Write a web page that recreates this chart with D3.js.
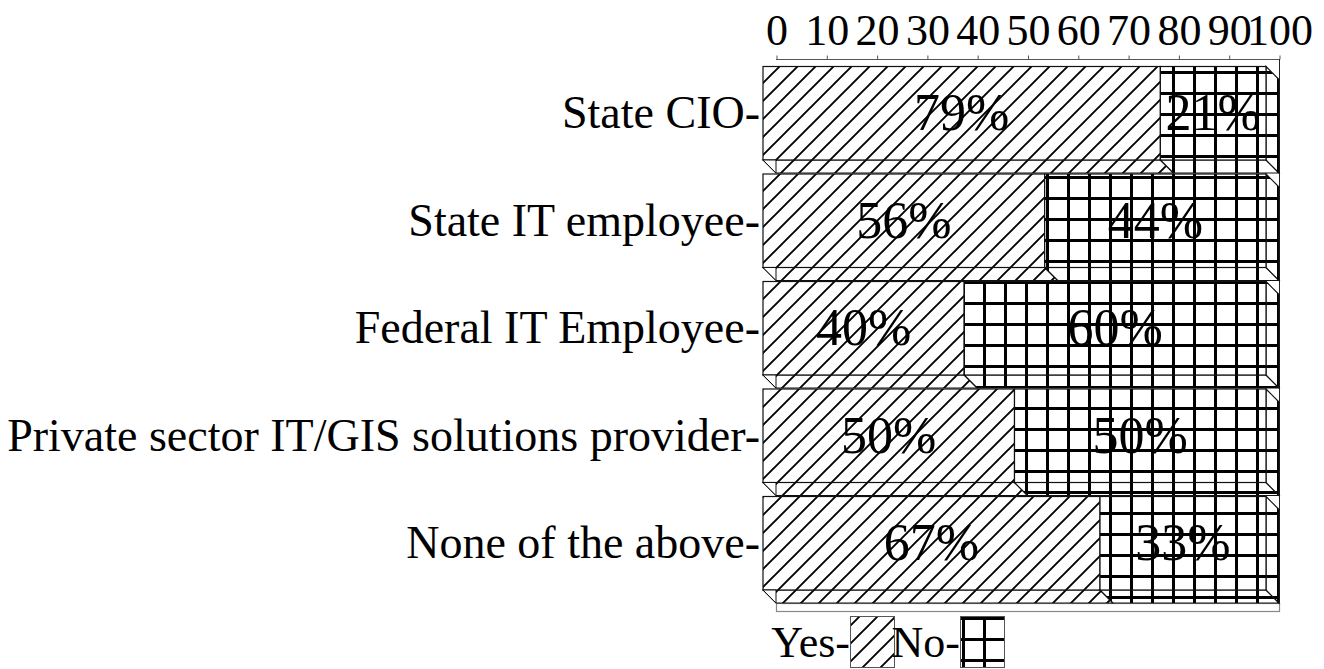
<!DOCTYPE html>
<html>
<head>
<meta charset="utf-8">
<title>Yes / No by respondent group</title>
<style>
  body { margin: 0; background: #fff; }
  svg { display: block; font-family: "Liberation Serif", "Times New Roman", serif; }
  .x .domain { display: none; }
  .x .tick line { stroke: #555; }
  .x .tick text { font-size: 44px; fill: #000; font-family: "Liberation Serif", "Times New Roman", serif; }
</style>
</head>
<body>
<svg width="1324" height="669"></svg>
<script src="https://d3js.org/d3.v7.min.js"></script>
<script>
// values
let categories = ["State CIO", "State IT employee", "Federal IT Employee", "Private sector IT/GIS solutions provider", "None of the above"];
let yesValues = [79, 56, 40, 50, 67];
let noValues = [21, 44, 60, 50, 33];
let tickValues = [0, 10, 20, 30, 40, 50, 60, 70, 80, 90, 100];
let seriesNames = ["Yes", "No"];

let svg = d3.select("svg");
let depth = 13;

let data = categories.map((c, i) => ({ cat: c, Yes: yesValues[i], No: noValues[i] }));
let series = d3.stack().keys(seriesNames)(data);

// front face scale and the back plane (shifted by the depth)
let x = d3.scaleLinear().domain([0, 100]).range([763, 1266]);
let xBack = d3.scaleLinear().domain([0, 100]).range([763 + depth, 1266 + depth]);

let y = d3.scaleBand()
    .domain(categories)
    .range([66.5, 604]);
let front = y.step() - depth - 1;

// patterns
let defs = svg.append("defs");
let hatch = defs.append("pattern")
    .attr("id", "pat-Yes")
    .attr("patternUnits", "userSpaceOnUse")
    .attr("width", 18).attr("height", 18);
hatch.append("rect").attr("width", 18).attr("height", 18).attr("fill", "#fff");
hatch.append("path")
    .attr("d", "M-2,20 L20,-2 M-3,3 L3,-3 M15,21 L21,15")
    .attr("stroke", "#000").attr("stroke-width", 1.9);

let grid = defs.append("pattern")
    .attr("id", "pat-No")
    .attr("patternUnits", "userSpaceOnUse")
    .attr("x", 17).attr("y", 8)
    .attr("width", 21).attr("height", 21);
grid.append("rect").attr("width", 21).attr("height", 21).attr("fill", "#fff");
grid.append("path")
    .attr("d", "M1.5,0 V21 M0,1.5 H21")
    .attr("stroke", "#000").attr("stroke-width", 3)
    .attr("shape-rendering", "crispEdges");

// back wall: top axis line, right edge and floor
svg.append("line")
    .attr("x1", xBack(0)).attr("x2", xBack(100))
    .attr("y1", 59.5).attr("y2", 59.5)
    .attr("stroke", "#555");
svg.append("line")
    .attr("x1", xBack(100) + 0.5).attr("x2", xBack(100) + 0.5)
    .attr("y1", 59).attr("y2", 612)
    .attr("stroke", "#222");
svg.append("rect")
    .attr("x", xBack(0) + 0.5).attr("y", 603.5)
    .attr("width", xBack(100) - xBack(0)).attr("height", 8)
    .attr("fill", "#fff").attr("stroke", "#888").attr("stroke-width", 1.2);

let xAxis = d3.axisTop(xBack)
    .tickValues(tickValues)
    .tickSize(4)
    .tickSizeOuter(0)
    .tickPadding(11);

svg.append("g")
    .attr("class", "x axis")
    .attr("transform", "translate(0.5,59.5)")
    .call(xAxis)
    .attr("font-family", null);

// bars: bottom face, right face and front face
let group = svg.append("g")
    .selectAll("g")
    .data(series)
    .join("g")
    .attr("fill", d => `url(#pat-${d.key})`)
    .attr("stroke", "#111")
    .attr("stroke-width", 1.2);

group.selectAll("path.bottom")
    .data(d => d)
    .join("path")
    .attr("class", "bottom")
    .attr("d", d => {
        let yb = y(d.data.cat) + front;
        return `M${x(d[0])},${yb} L${x(d[1])},${yb} L${x(d[1]) + depth},${yb + depth} L${x(d[0]) + depth},${yb + depth} Z`;
    });

group.selectAll("path.side")
    .data(d => d.filter(v => v[1] === 100))
    .join("path")
    .attr("class", "side")
    .attr("d", d => {
        let yt = y(d.data.cat);
        let xr = x(d[1]);
        return `M${xr},${yt} L${xr + depth},${yt + depth} L${xr + depth},${yt + front + depth} L${xr},${yt + front} Z`;
    });

group.selectAll("rect")
    .data(d => d)
    .join("rect")
    .attr("x", d => x(d[0]))
    .attr("width", d => x(d[1]) - x(d[0]))
    .attr("y", d => y(d.data.cat))
    .attr("height", front);

// small white corner at the left of each bottom face
svg.append("g")
    .selectAll("path")
    .data(categories)
    .join("path")
    .attr("d", c => {
        let yb = y(c) + front;
        return `M${x(0)},${yb} L${xBack(0)},${yb} L${xBack(0)},${yb + depth} Z`;
    })
    .attr("fill", "#fff")
    .attr("stroke", "#111")
    .attr("stroke-width", 1);

// value labels
group.selectAll("text")
    .data(d => d)
    .join("text")
    .attr("x", d => (x(d[0]) + x(d[1])) / 2)
    .attr("y", d => y(d.data.cat) + front / 2 + 17)
    .attr("text-anchor", "middle")
    .attr("fill", "#000")
    .attr("stroke", "none")
    .style("font-size", "52px")
    .text(d => Math.round(d[1] - d[0]) + "%");

// category labels
svg.append("g")
    .selectAll("text")
    .data(categories)
    .join("text")
    .attr("x", 760)
    .attr("y", c => y(c) + front / 2 + 15)
    .attr("text-anchor", "end")
    .style("font-size", "46px")
    .text(c => c + "-");

// legend
let legendX = [850, 960];
let legend = svg.append("g")
    .selectAll("g")
    .data(seriesNames)
    .join("g");
legend.append("text")
    .attr("x", (d, i) => legendX[i])
    .attr("y", 657)
    .attr("text-anchor", "end")
    .style("font-size", "44px")
    .text(d => d + "-");
legend.append("rect")
    .attr("x", (d, i) => legendX[i] + 0.5)
    .attr("y", 616.5)
    .attr("width", 44)
    .attr("height", 51)
    .attr("fill", d => `url(#pat-${d})`)
    .attr("stroke", "#555");
</script>
</body>
</html>
